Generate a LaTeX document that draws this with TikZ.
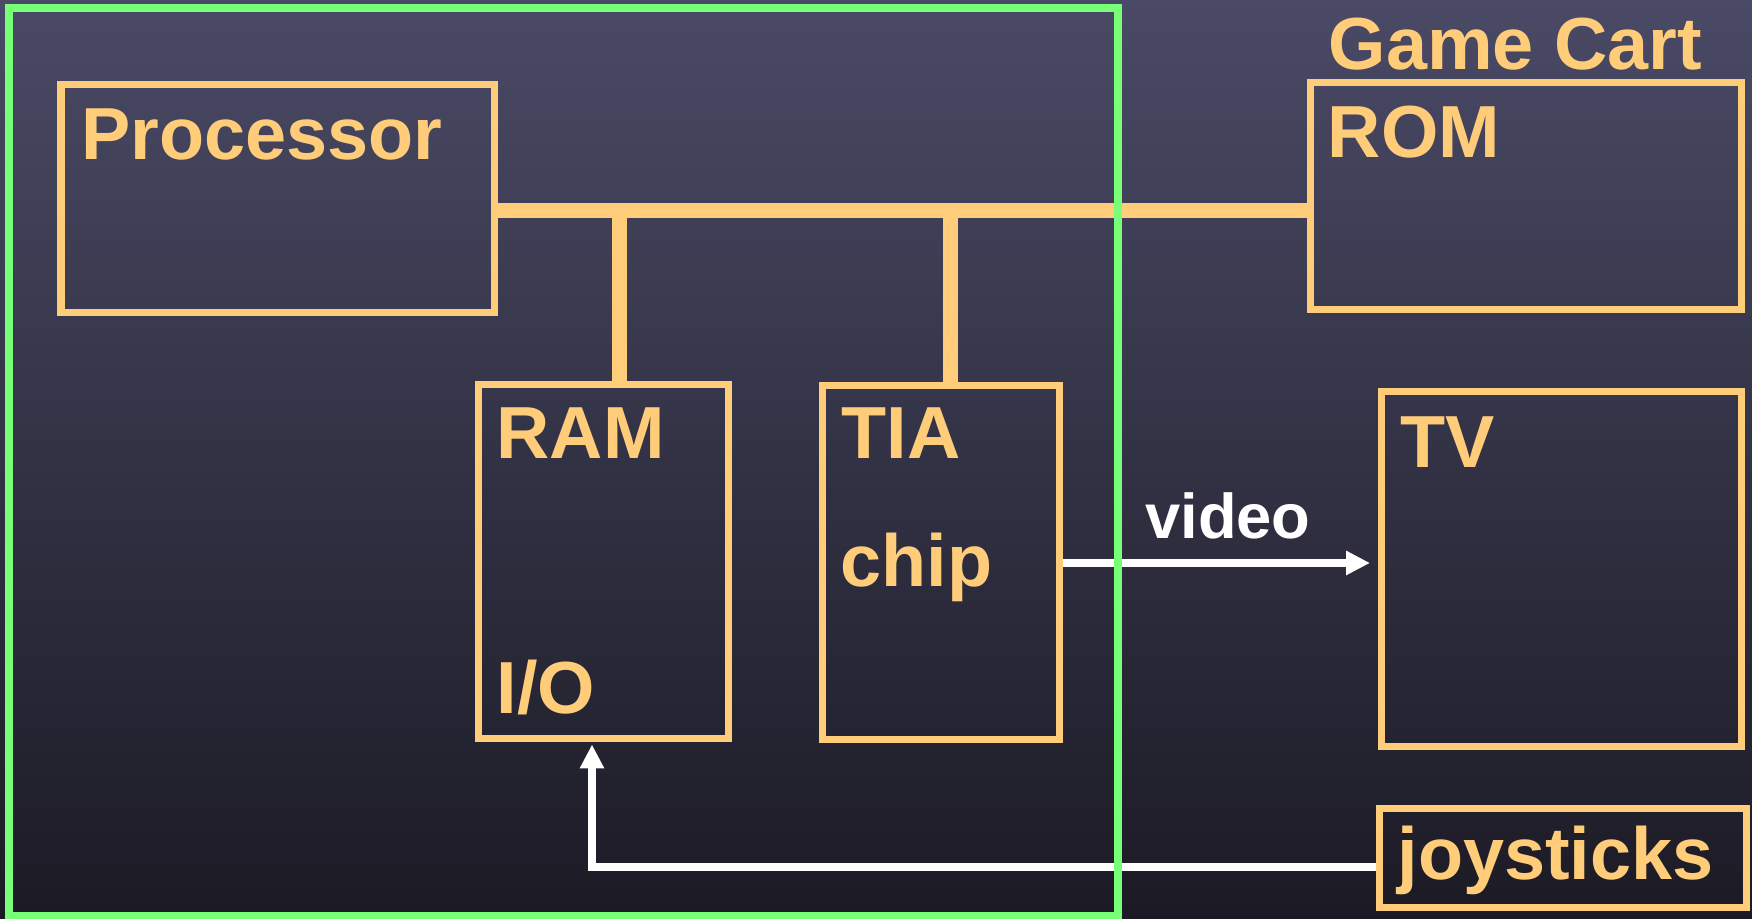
\documentclass[tikz,border=0pt]{standalone}
\usepackage{fontspec}
\setmainfont{Liberation Sans}
\usepackage{xcolor}
\usetikzlibrary{arrows.meta, calc}

\definecolor{cartorange}{RGB}{255,204,122}
\definecolor{boardgreen}{RGB}{119,255,119}
\definecolor{bgtop}{RGB}{74,74,102}
\definecolor{bgbottom}{RGB}{27,26,36}

\begin{document}
\begin{tikzpicture}[
    part/.style={rectangle, draw=cartorange, line width=0.07cm, inner sep=0pt},
    parttext/.style={anchor=base west, inner sep=0pt, text=cartorange, font=\fontsize{21}{25}\selectfont\bfseries},
    bus/.style={draw=cartorange, line width=0.15cm},
    arrow/.style={-{Triangle[length=0.24cm, width=0.23cm]}, white, line width=0.075cm}
]

\useasboundingbox (0,0) rectangle (17.52,-9.19);
\shade[top color=bgtop, bottom color=bgbottom] (0,0) rectangle (17.52,-9.19);

% boxes
\node[part, minimum width=4.33cm, minimum height=2.28cm] (processor) at (2.775,-1.99) {};
\node[part, minimum width=4.31cm, minimum height=2.27cm] (rom) at (15.255,-1.965) {};
\node[part, minimum width=2.50cm, minimum height=3.54cm] (ram) at (6.03,-5.62) {};
\node[part, minimum width=2.37cm, minimum height=3.54cm] (tia) at (9.405,-5.63) {};
\node[part, minimum width=3.60cm, minimum height=3.55cm] (tv) at (15.61,-5.695) {};
\node[part, minimum width=3.67cm, minimum height=0.99cm] (joy) at (15.625,-8.585) {};

% texts
\node[parttext] (proctext) at (0.81,-1.60) {Processor};
\node[parttext] (carttext) at (13.28,-0.70) {Game Cart};
\node[parttext] (romtext) at (13.27,-1.58) {ROM};
\node[parttext] (ramtext) at (4.96,-4.59) {RAM};
\node[parttext] (iotext) at (4.96,-7.14) {I/O};
\node[parttext] (tiatext) at (8.41,-4.59) {TIA};
\node[parttext] (chiptext) at (8.40,-5.87) {chip};
\node[parttext] (tvtext) at (14.00,-4.68) {TV};
\node[parttext] (joytext) at (13.97,-8.80) {joysticks};

% bus
\coordinate (ramtap) at (6.19,-2.11);
\coordinate (tiatap) at (9.50,-2.11);
\draw[bus] (processor.east |- ramtap) -- (rom.west |- ramtap);
\draw[bus] (ramtap) -- (ram.north -| ramtap);
\draw[bus] (tiatap) -- (tia.north -| tiatap);

% signals
\draw[arrow, shorten >=0.075cm] (tia.east) -- (tia.east -| tv.west)
    node[midway, above=0.2cm, xshift=0.08cm, inner sep=0pt, text=white, font=\fontsize{18}{22}\selectfont\bfseries] (videotext) {video};
\coordinate (iotap) at (5.92,-8.67);
\draw[arrow, shorten >=0.02cm] (joy.west |- iotap) -| (ram.south -| iotap);

% console board
\node[draw=boardgreen, line width=0.075cm, minimum width=11.09cm, minimum height=9.08cm, inner sep=0pt] (console) at (5.635,-4.62) {};

\end{tikzpicture}
\end{document}
